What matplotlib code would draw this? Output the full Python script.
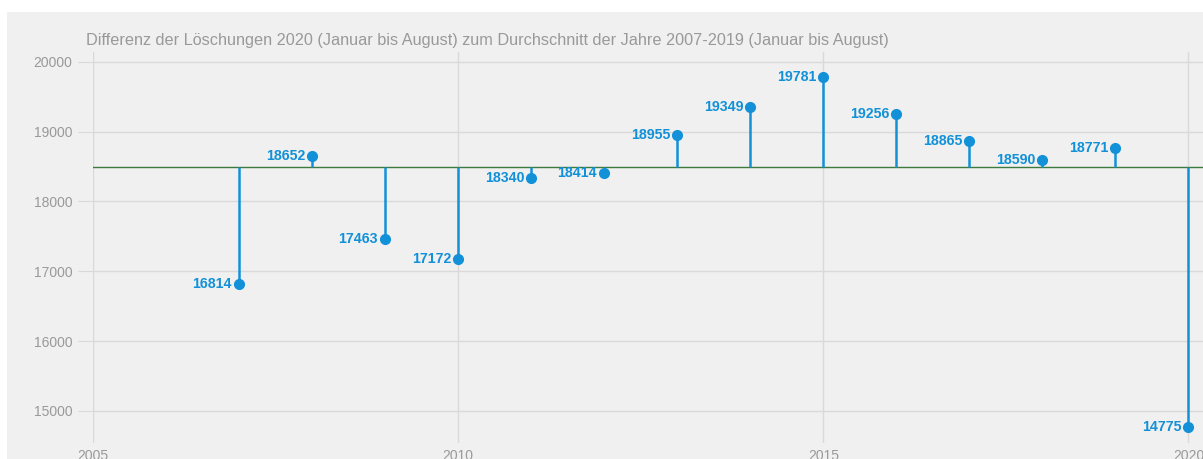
import matplotlib.pyplot as plt
from matplotlib.patches import Rectangle

# Löschungen Januar bis August je Jahr
years = [2007, 2008, 2009, 2010, 2011, 2012, 2013, 2014, 2015, 2016, 2017, 2018, 2019, 2020]
values = [16814, 18652, 17463, 17172, 18340, 18414, 18955, 19349, 19781, 19256, 18865, 18590, 18771, 14775]

ref_years = years[:-1]
ref_values = values[:-1]
baseline = sum(ref_values) / len(ref_values)

title = ("Differenz der Löschungen 2020 (Januar bis August) zum Durchschnitt "
         "der Jahre 2007-2019 (Januar bis August)")
x_ticks = [2005, 2010, 2015, 2020]
y_ticks = [15000, 16000, 17000, 18000, 19000, 20000]

BLUE = "#1291d8"
GRID = "#d9d9d9"
TEXT = "#999999"

plt.rcParams["font.family"] = ["Liberation Sans", "DejaVu Sans"]

W, H = 1203, 459
fig = plt.figure(figsize=(W / 100, H / 100), dpi=100, facecolor="white")
fig.patches.append(Rectangle((7 / W, 0), 1, (H - 12) / H, transform=fig.transFigure,
                             facecolor="#f0f0f0", edgecolor="none", zorder=-10))

ax = fig.add_axes([93 / W, 16 / H, 1 - 93 / W, (443 - 52) / H])
ax.set_zorder(1)
ax.set_facecolor("none")
ax.set_xlim(2005, 2020.2)
ax.set_ylim(14540, 20140)

ax.axhline(baseline, color="#3d7a3d", linewidth=1.0, zorder=2)
ax.vlines(years, baseline, values, color=BLUE, linewidth=1.8, zorder=3)
ax.plot(years, values, "o", color=BLUE, markersize=7, zorder=4)
for yr, v in zip(years, values):
    ax.annotate(str(v), (yr, v), xytext=(-7, 0), textcoords="offset pixels",
                ha="right", va="center", color=BLUE, fontsize=10.2,
                fontweight="bold", zorder=5)

ax.set_xticks(x_ticks)
ax.set_yticks(y_ticks)
ax.grid(True, color=GRID, linewidth=1.0, zorder=1)
ax.set_axisbelow(True)
ax.tick_params(axis="y", length=11, color=GRID, labelcolor=TEXT, labelsize=10, pad=4)
ax.tick_params(axis="x", length=0, labelcolor=TEXT, labelsize=10, pad=4)
for s in ax.spines.values():
    s.set_visible(False)

fig.text(86 / W, 1 - 40 / H, title, color=TEXT, fontsize=11.7, ha="left", va="center")

fig.savefig("out.png", dpi=100)
